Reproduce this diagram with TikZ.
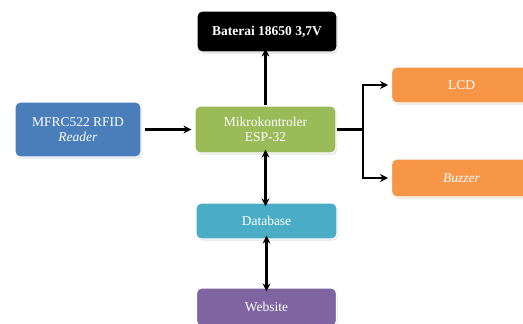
\documentclass[tikz,border=0pt]{standalone}
\usepackage{fontspec}
\setmainfont{Liberation Serif}
\usetikzlibrary{arrows.meta,shadows}
\definecolor{cblue}{RGB}{74,126,187}
\definecolor{cgreen}{RGB}{155,187,89}
\definecolor{corange}{RGB}{247,150,70}
\definecolor{cteal}{RGB}{75,172,198}
\definecolor{cpurple}{RGB}{128,100,162}
\begin{document}
\begin{tikzpicture}[x=1pt,y=-1pt,
  blk/.style={draw=white,line width=1.2pt,rounded corners=5pt,text=white,
    font=\fontsize{13.5}{15}\selectfont,align=center,inner sep=0pt,
    drop shadow={opacity=0.25,shadow xshift=1pt,shadow yshift=-1.5pt}},
  con/.style={line width=2.2pt,-{Stealth[length=8pt,width=8pt]}},
  bicon/.style={line width=2.2pt,{Stealth[length=8pt,width=8pt]}-{Stealth[length=8pt,width=8pt]}}]
\useasboundingbox[fill=white] (0,0) rectangle (523,324);
\node[blk,fill=black,minimum width=140pt,minimum height=41pt,font=\fontsize{13.5}{15}\selectfont\bfseries] (bat) at (267,31.5) {Baterai 18650 3,7V};
\node[blk,fill=cblue,minimum width=126pt,minimum height=55pt] (rfid) at (78,129.5) {MFRC522 RFID\\\textit{Reader}};
\node[blk,fill=cgreen,minimum width=141pt,minimum height=47pt] (mcu) at (265.5,129.5) {Mikrokontroler\\ESP-32};
\node[blk,fill=corange,minimum width=140pt,minimum height=36pt,anchor=west] (lcd) at (391,85) {LCD};
\node[blk,fill=corange,minimum width=140pt,minimum height=38pt,anchor=west] (buz) at (391,178) {\textit{Buzzer}};
\node[blk,fill=cteal,minimum width=141pt,minimum height=36pt] (db) at (266.5,221) {Database};
\node[blk,fill=cpurple,minimum width=140pt,minimum height=38pt] (web) at (266.5,307) {Website};
\coordinate (br) at (363,129.5);
\draw[con] (mcu.north) -- ([yshift=4pt]bat.south -| mcu.north);
\draw[con] ([xshift=3pt]rfid.east) -- ([xshift=-3pt]mcu.west);
\draw[line width=2.2pt] (mcu.east) -- (br);
\draw[con] ([yshift=-1.1pt]br) |- ([xshift=-3pt]lcd.west);
\draw[con] ([yshift=1.1pt]br) |- ([xshift=-3pt]buz.west);
\draw[bicon] ([yshift=4pt]mcu.south) -- ([yshift=-4pt]db.north -| mcu.south);
\draw[bicon] ([yshift=4pt]db.south) -- ([yshift=-4pt]web.north);
\end{tikzpicture}
\end{document}
